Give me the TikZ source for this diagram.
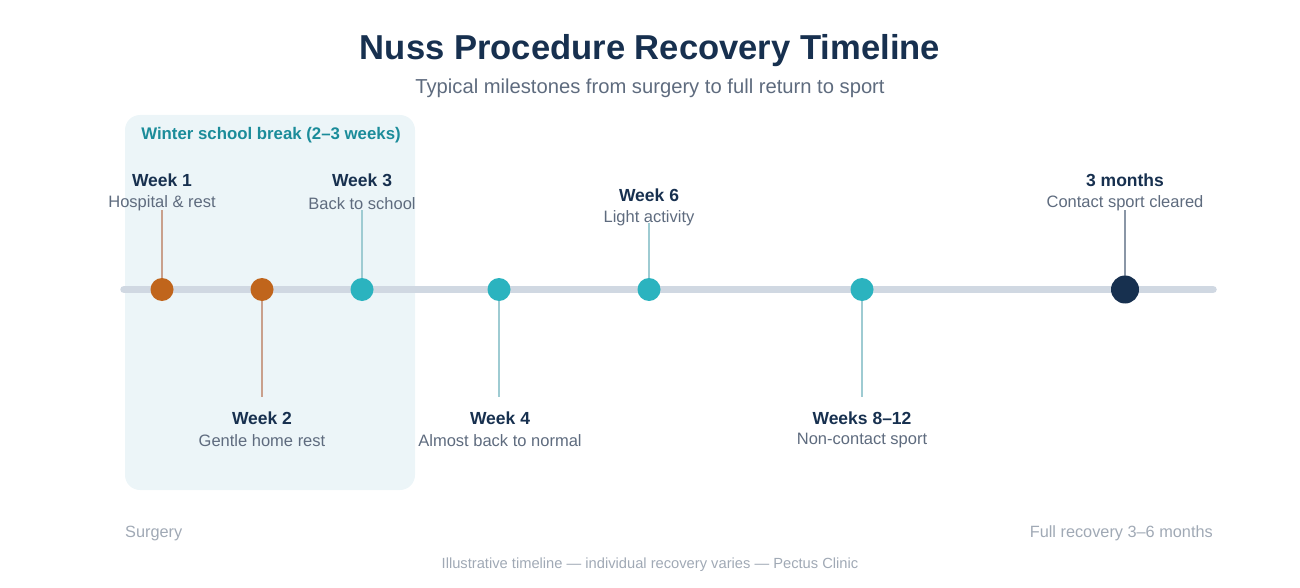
\documentclass[tikz,border=0pt]{standalone}
\usepackage{fontspec}
\setmainfont{Liberation Sans}
\definecolor{navy}{HTML}{17304F}
\definecolor{subgray}{HTML}{5E6B7E}
\definecolor{lightgray}{HTML}{A0A9B5}
\definecolor{axisgray}{HTML}{D0D8E2}
\definecolor{orng}{HTML}{C0651C}
\definecolor{teal}{HTML}{2BB3BF}
\definecolor{boxfill}{HTML}{ECF5F8}
\definecolor{boxtitle}{HTML}{1B8C9A}
\definecolor{stemorng}{HTML}{C9A08C}
\definecolor{stemteal}{HTML}{9ECBD2}
\definecolor{stemnavy}{HTML}{8A96A6}
\tikzset{
  dot/.style={circle,inner sep=0pt,minimum size=23pt},
  bigdot/.style={circle,inner sep=0pt,minimum size=28pt,fill=navy},
  wk/.style={font=\fontsize{17.5}{20}\selectfont\bfseries,text=navy,inner sep=0pt},
  wksub/.style={font=\fontsize{16.5}{19}\selectfont,text=subgray,inner sep=0pt},
  stem/.style={line width=1.8pt},
  endlbl/.style={font=\fontsize{16.3}{19}\selectfont,text=lightgray,inner sep=0pt},
}
\begin{document}
\begin{tikzpicture}[x=1pt,y=-1pt]
\useasboundingbox (0,0) rectangle (1300,588);
% title
\node[font=\fontsize{34.6}{40}\selectfont\bfseries,text=navy,inner sep=0pt] (title) at (650,51) {Nuss Procedure Recovery Timeline};
\node[font=\fontsize{20.2}{24}\selectfont,text=subgray,inner sep=0pt] (subtitle) at (650,88) {Typical milestones from surgery to full return to sport};
% winter box
\fill[boxfill,rounded corners=15pt] (125,115) rectangle (415,490);
\node[font=\fontsize{16.8}{20}\selectfont\bfseries,text=boxtitle,inner sep=0pt] (boxt) at (271,135.5) {Winter school break (2–3 weeks)};
% axis
\coordinate (axL) at (124,289.5);
\coordinate (axR) at (1213,289.5);
\draw[axisgray,line width=7.5pt,line cap=round] (axL) -- (axR);
% dots positions
\coordinate (p1) at (162,289.5);
\coordinate (p2) at (262,289.5);
\coordinate (p3) at (362,289.5);
\coordinate (p4) at (499,289.5);
\coordinate (p6) at (649,289.5);
\coordinate (p8) at (862,289.5);
\coordinate (pm) at (1125,289.5);
% stem ends
\coordinate (s1) at (162,210);
\coordinate (s2) at (262,397);
\coordinate (s3) at (362,210);
\coordinate (s4) at (499,397);
\coordinate (s6) at (649,223);
\coordinate (s8) at (862,397);
\coordinate (sm) at (1125,210);
\draw[stem,stemorng] (p1) -- (s1);
\draw[stem,stemorng] (p2) -- (s2);
\draw[stem,stemteal] (p3) -- (s3);
\draw[stem,stemteal] (p4) -- (s4);
\draw[stem,stemteal] (p6) -- (s6);
\draw[stem,stemteal] (p8) -- (s8);
\draw[stem,stemnavy] (pm) -- (sm);
% dots
\node[dot,fill=orng] (d1) at (p1) {};
\node[dot,fill=orng] (d2) at (p2) {};
\node[dot,fill=teal] (d3) at (p3) {};
\node[dot,fill=teal] (d4) at (p4) {};
\node[dot,fill=teal] (d6) at (p6) {};
\node[dot,fill=teal] (d8) at (p8) {};
\node[bigdot] (dm) at (pm) {};
% labels
\node[wk] (w1) at (162,180) {Week 1};
\node[wksub] (w1s) at (162,203.5) {Hospital \& rest};
\node[wk] (w3) at (362,180) {Week 3};
\node[wksub] (w3s) at (362,203.5) {Back to school};
\node[wk] (w6) at (649,195) {Week 6};
\node[wksub] (w6s) at (649,218.5) {Light activity};
\node[wk] (wm) at (1125,180) {3 months};
\node[wksub] (wms) at (1125,203.5) {Contact sport cleared};
\node[wk] (w2) at (262,418) {Week 2};
\node[wksub] (w2s) at (262,440.5) {Gentle home rest};
\node[wk] (w4) at (500,418) {Week 4};
\node[wksub] (w4s) at (500,440.5) {Almost back to normal};
\node[wk] (w8) at (862,418) {Weeks 8–12};
\node[wksub] (w8s) at (862,441) {Non-contact sport};
% ends
\node[endlbl,anchor=west] (surg) at (125,533.5) {Surgery};
\node[endlbl,anchor=east] (full) at (1213,533.5) {Full recovery 3–6 months};
\node[font=\fontsize{14.7}{17}\selectfont,text=lightgray,inner sep=0pt] (foot) at (650,564.5) {Illustrative timeline — individual recovery varies — Pectus Clinic};
\end{tikzpicture}
\end{document}
